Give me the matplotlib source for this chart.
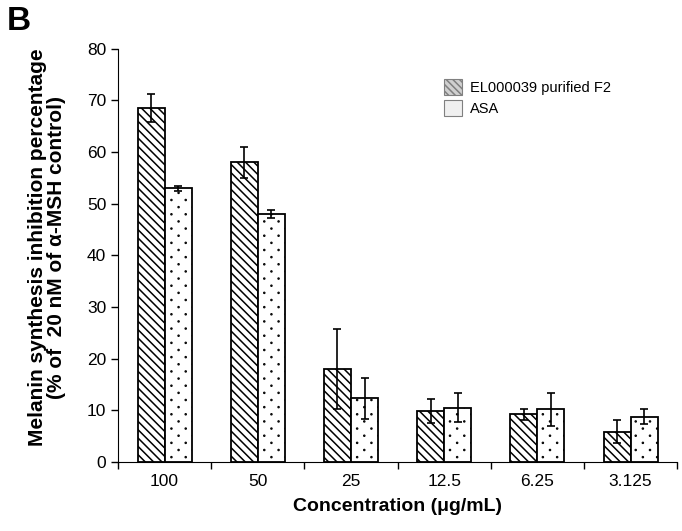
import numpy as np
import matplotlib
matplotlib.use("Agg")
import matplotlib.pyplot as plt
import matplotlib.hatch as mhatch
from matplotlib.path import Path
from matplotlib.patches import Patch

concentrations = ["100", "50", "25", "12.5", "6.25", "3.125"]
el_values = [68.5, 58.0, 18.0, 9.8, 9.2, 5.9]
el_errors = [2.7, 3.0, 7.7, 2.3, 1.0, 2.2]
asa_values = [53.0, 48.0, 12.3, 10.5, 10.2, 8.8]
asa_errors = [0.5, 0.8, 4.0, 2.8, 3.2, 1.5]


# sparser, staggered dot hatch than matplotlib's built-in "."
class SparseDots(mhatch.HatchPatternBase):
    cols = 7
    radius = 0.005

    def __init__(self, hatch, density):
        circle = Path.unit_circle()
        self.shape_vertices = circle.vertices
        self.shape_codes = circle.codes
        self.rows = 2 * self.cols
        count = sum(self.cols + 1 if r % 2 == 0 else self.cols for r in range(self.rows + 1))
        self.num_vertices = count * len(self.shape_vertices) if "." in hatch else 0

    def set_vertices_and_codes(self, vertices, codes):
        shape = self.shape_vertices * self.radius
        v_parts, c_parts = [], []
        for r in range(self.rows + 1):
            if r % 2 == 0:
                xs = np.linspace(0, 1, self.cols + 1)
            else:
                xs = np.linspace(0.5 / self.cols, 1 - 0.5 / self.cols, self.cols)
            for xpos in xs:
                v_parts.append(shape + [xpos, r / self.rows])
                c_parts.append(self.shape_codes)
        np.concatenate(v_parts, out=vertices)
        np.concatenate(c_parts, out=codes)


mhatch._hatch_types = [t for t in mhatch._hatch_types if t is not mhatch.SmallFilledCircles] + [SparseDots]

plt.rcParams["font.family"] = ["Liberation Sans", "DejaVu Sans"]
plt.rcParams["hatch.linewidth"] = 1.1

fig = plt.figure(figsize=(6.82, 5.31), dpi=100)
ax = fig.add_axes([0.173, 0.130, 0.820, 0.778])

x = np.arange(len(concentrations))
width = 0.29
err_kw = dict(ecolor="black", elinewidth=1.2, capsize=3, capthick=1.2)

ax.bar(x - width / 2, el_values, width, yerr=el_errors, color="white",
       edgecolor="black", linewidth=1.3, hatch="\\\\\\\\", error_kw=err_kw, zorder=2)
ax.bar(x + width / 2, asa_values, width, yerr=asa_errors, color="white",
       edgecolor="black", linewidth=1.3, hatch=".", error_kw=err_kw, zorder=2)

ax.set_xlim(-0.5, len(concentrations) - 0.5)
ax.set_ylim(0, 80)
ax.set_yticks(range(0, 81, 10))
ax.set_xticks(x)
ax.set_xticklabels(concentrations, fontsize=12.5)
ax.tick_params(axis="x", which="major", length=0, pad=9)
ax.set_xticks(np.arange(-0.5, len(concentrations), 1.0), minor=True)
ax.tick_params(axis="x", which="minor", length=5, width=1, direction="out")
ax.tick_params(axis="y", labelsize=12.5, length=5, width=1, direction="out")
ax.spines["top"].set_visible(False)
ax.spines["right"].set_visible(False)

ax.set_xlabel("Concentration (\u03bcg/mL)", fontsize=14, fontweight="bold", labelpad=6)
ax.set_ylabel("Melanin synthesis inhibition percentage\n(% of  20 nM of \u03b1-MSH control)",
              fontsize=15, fontweight="bold", linespacing=1.0)
ax.yaxis.set_label_coords(-0.093, 0.52)

handles = [
    Patch(facecolor="#d0d0d0", edgecolor="#808080", hatch="\\\\\\\\\\", linewidth=0.8),
    Patch(facecolor="#f0f0f0", edgecolor="#808080", linewidth=0.8),
]
ax.legend(handles, ["EL000039 purified F2", "ASA"], loc="upper right",
          bbox_to_anchor=(0.905, 0.96), frameon=False, fontsize=10.5,
          handlelength=1.2, handleheight=1.35, handletextpad=0.55, labelspacing=0.35)

fig.text(0.010, 0.988, "B", fontsize=24, fontweight="bold", va="top")

fig.savefig("out.png", dpi=100)
